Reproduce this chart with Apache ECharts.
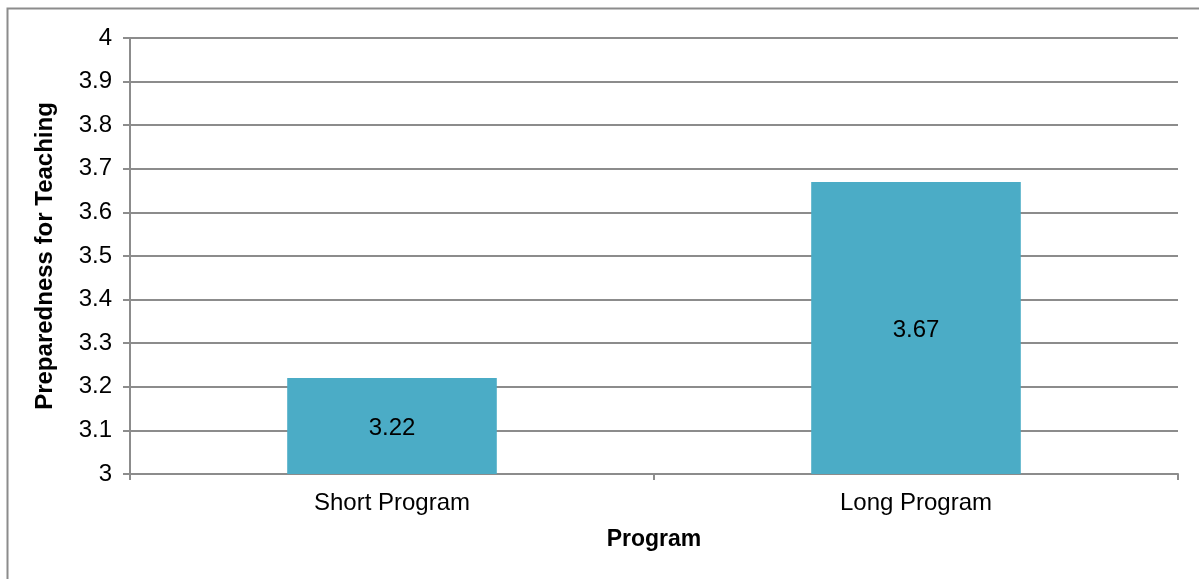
<!DOCTYPE html>
<html><head><meta charset="utf-8">
<script src="https://cdn.jsdelivr.net/npm/echarts@6/dist/echarts.min.js"></script>
<style>html,body{margin:0;padding:0;background:#fff}#c{width:1199px;height:579px}</style>
</head><body><div id="c"></div>
<script>
const categories = ['Short Program', 'Long Program'];
const values = [3.22, 3.67];
const yTicks = [3, 3.1, 3.2, 3.3, 3.4, 3.5, 3.6, 3.7, 3.8, 3.9, 4];

const chart = echarts.init(document.getElementById('c'), null, {renderer: 'canvas'});
const font = '"Liberation Sans", Arial, sans-serif';
chart.setOption({
  animation: false,
  graphic: [{type: 'rect', shape: {x: 7.5, y: 8.5, width: 1300, height: 700}, style: {fill: 'none', stroke: '#8c8c8c', lineWidth: 2}, silent: true}],
  grid: {left: 130, right: 21, top: 38, bottom: 105},
  xAxis: {
    type: 'category', data: categories,
    name: 'Program', nameLocation: 'middle', nameGap: 54,
    nameTextStyle: {fontFamily: font, fontSize: 23, fontWeight: 'bold', color: '#000'},
    axisLine: {lineStyle: {color: '#8c8c8c', width: 2}},
    axisTick: {show: true, length: 6, lineStyle: {color: '#8c8c8c', width: 2}},
    axisLabel: {fontFamily: font, fontSize: 24, color: '#000', margin: 17}
  },
  yAxis: {
    type: 'value', min: yTicks[0], max: yTicks[yTicks.length - 1], interval: 0.1,
    name: 'Preparedness for Teaching', nameLocation: 'middle', nameGap: 73, nameRotate: 90,
    nameTextStyle: {fontFamily: font, fontSize: 24, fontWeight: 'bold', color: '#000'},
    axisLine: {show: true, lineStyle: {color: '#8c8c8c', width: 2}},
    axisTick: {show: true, length: 7, lineStyle: {color: '#8c8c8c', width: 2}},
    splitLine: {lineStyle: {color: '#8c8c8c', width: 2}},
    axisLabel: {fontFamily: font, fontSize: 24, color: '#000', margin: 18,
      formatter: v => String(Math.round(v * 10) / 10)}
  },
  series: [{
    type: 'bar', data: values, barWidth: '40%',
    itemStyle: {color: '#4BACC6'},
    label: {show: true, position: 'inside', fontFamily: font, fontSize: 24, color: '#000', offset: [0, 2]}
  }]
});
</script></body></html>
